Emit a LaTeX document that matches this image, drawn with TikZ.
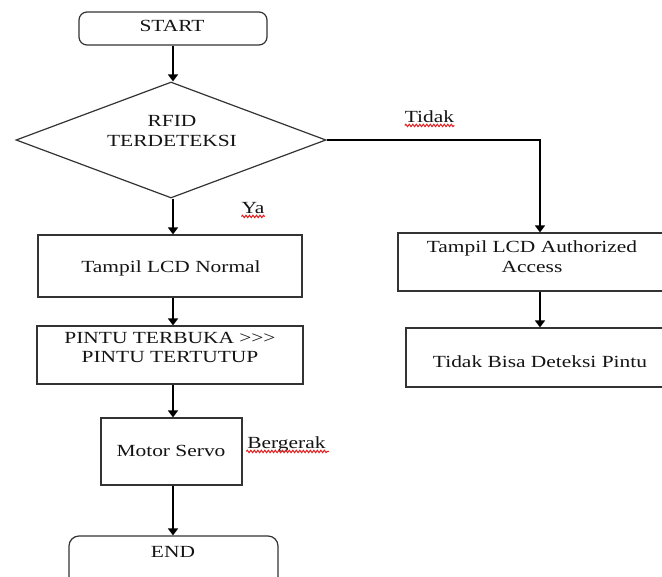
\documentclass[tikz,border=0pt]{standalone}
\usepackage{fontspec}
\setmainfont[FakeStretch=1.26]{Liberation Serif}
\usetikzlibrary{shapes.geometric,arrows.meta,decorations.pathmorphing}
\definecolor{linegray}{HTML}{333333}
\definecolor{textcol}{HTML}{141414}
\definecolor{squigred}{HTML}{E02020}
\begin{document}
\begin{tikzpicture}[x=1pt,y=-1pt,
  boxst/.style={draw=linegray,line width=1.2pt,inner sep=0pt,rectangle},
  term/.style={boxst,rounded corners=8pt},
  dia/.style={draw=linegray,line width=1.2pt,inner sep=0pt,diamond,minimum width=310pt,minimum height=116pt},
  txt/.style={font=\fontsize{17}{19.5}\selectfont,text=textcol,align=center,inner sep=0pt},
  one/.style={txt,text height=11.5pt,text depth=0pt},
  arr/.style={-{Triangle[length=7pt,width=10pt]},line width=1.6pt,draw=black},
  squig/.style={draw=squigred,line width=1pt,decorate,decoration={snake,amplitude=1.2pt,segment length=3.5pt}}]
\useasboundingbox (0,0) rectangle (662,577);
\clip (0,0) rectangle (662,577);
\fill[white] (0,0) rectangle (662,577);

\coordinate (colx) at (173,0);
\coordinate (colr) at (540,0);

% shapes
\node[term,minimum width=188pt,minimum height=33pt] (start) at (173,28.5) {};
\node[dia] (d) at (171,140) {};
\node[boxst,minimum width=264pt,minimum height=62pt] (b1) at (170,266) {};
\node[boxst,minimum width=266pt,minimum height=58pt] (b2) at (170,355) {};
\node[boxst,minimum width=141pt,minimum height=67pt] (b3) at (171.5,451.5) {};
\node[term,rounded corners=10pt,minimum width=209pt,minimum height=64pt] (end) at (173.5,568) {};
\node[boxst,minimum width=270pt,minimum height=58pt] (r1) at (533,262) {};
\node[boxst,minimum width=268pt,minimum height=59pt] (r2) at (540,357.5) {};

% texts
\node[one] (startt) at (172,26) {START};
\node[txt] (dt) at (172,131) {RFID\\TERDETEKSI};
\node[one] (b1t) at (171,267) {Tampil LCD Normal};
\node[txt] (b2t) at (170,347.5) {PINTU TERBUKA >{}>{}>\\PINTU TERTUTUP};
\node[one] (b3t) at (171,451) {Motor Servo};
\node[one] (endt) at (173,552) {END};
\node[txt] (r1t) at (532,256.5) {Tampil LCD Authorized\\Access};
\node[one] (r2t) at (540,362) {Tidak Bisa Deteksi Pintu};

% labels
\node[one] (tidak) at (429.5,117) {Tidak};
\node[one] (ya) at (253,208) {Ya};
\node[one] (gerak) at (286.5,443) {Bergerak};
\draw[squig] ([yshift=-2.5pt]tidak.south west) -- ([yshift=-2.5pt]tidak.south east);
\draw[squig] ([yshift=-2.5pt]ya.south west) -- ([yshift=-2.5pt]ya.south east);
\draw[squig] ([yshift=-2.5pt,xshift=-1pt]gerak.south west) -- ([yshift=-2.5pt,xshift=3pt]gerak.south east);

% connectors
\draw[arr] (start.south -| colx) -- (d.north -| colx);
\draw[arr] (d.south -| colx) -- (b1.north -| colx);
\draw[arr] (b1.south -| colx) -- (b2.north -| colx);
\draw[arr] (b2.south -| colx) -- (b3.north -| colx);
\draw[arr] (b3.south -| colx) -- (end.north -| colx);
\draw[arr] (d.east) -- (d.east -| colr) -- (r1.north -| colr);
\draw[arr] (r1.south -| colr) -- (r2.north -| colr);
\end{tikzpicture}
\end{document}
